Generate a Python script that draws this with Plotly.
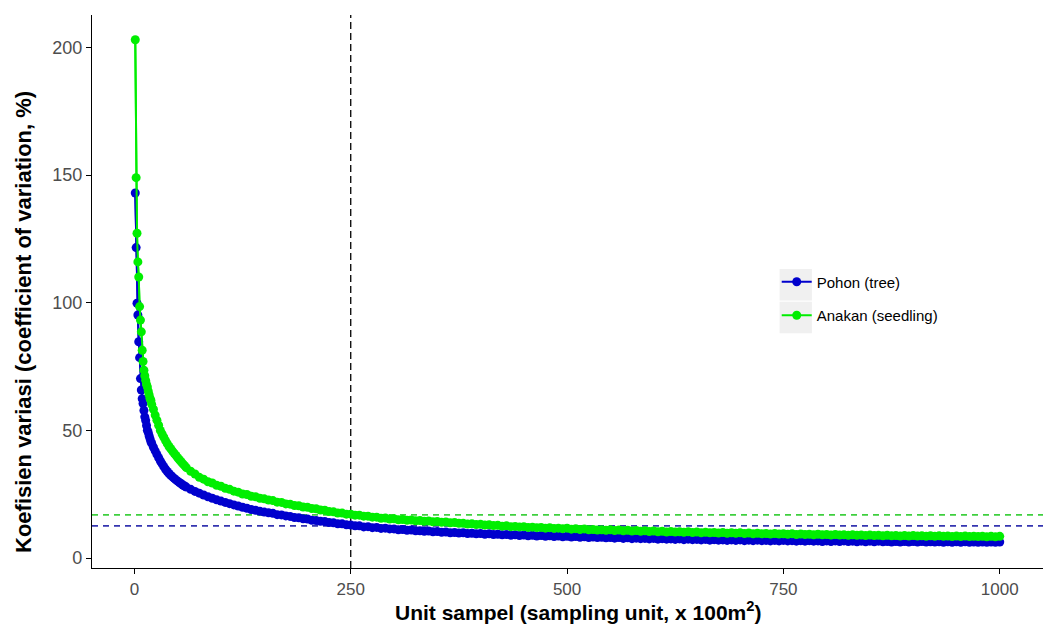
import plotly.graph_objects as go

# sample-size positions (sampling units)
n_units = list(range(1, 21)) + list(range(22, 61, 2)) + list(range(65, 1001, 5))

# coefficient of variation (%) - Pohon (tree)
cv_tree = [
    143.0, 121.6, 99.8, 95.2, 84.7, 78.5, 70.3, 65.8, 62.4, 60.5,
    57.8, 55.3, 53.9, 51.9, 50.1, 49.2, 47.9, 46.8, 45.6, 44.9,
    43.4, 42.0, 40.6, 39.3, 38.0, 36.9, 35.8, 34.8, 33.9, 33.1,
    32.4, 31.8, 31.2, 30.6, 30.1, 29.6, 29.1, 28.6, 28.2, 27.8,
    26.9, 26.1, 25.4, 24.7, 24.0, 23.4, 22.8, 22.3, 21.8, 21.3,
    20.8, 20.4, 19.9, 19.5, 19.0, 18.7, 18.3, 18.0, 17.7, 17.5,
    17.0, 16.9, 16.5, 16.3, 15.9, 15.8, 15.4, 15.3, 14.8, 14.7,
    14.4, 14.3, 13.9, 13.8, 13.4, 13.4, 13.0, 12.9, 12.6, 12.6,
    12.2, 12.3, 11.9, 12.0, 11.6, 11.7, 11.4, 11.4, 11.1, 11.2,
    10.9, 11.0, 10.7, 10.7, 10.5, 10.6, 10.3, 10.4, 10.1, 10.2,
    9.9, 10.0, 9.8, 9.9, 9.6, 9.7, 9.5, 9.6, 9.3, 9.5,
    9.2, 9.3, 9.1, 9.2, 8.9, 9.1, 8.8, 9.0, 8.7, 8.9,
    8.6, 8.8, 8.5, 8.7, 8.4, 8.6, 8.3, 8.5, 8.2, 8.4,
    8.1, 8.3, 8.0, 8.2, 8.0, 8.1, 7.9, 8.0, 7.8, 8.0,
    7.7, 7.9, 7.6, 7.8, 7.6, 7.7, 7.5, 7.7, 7.4, 7.6,
    7.4, 7.5, 7.3, 7.5, 7.2, 7.4, 7.2, 7.3, 7.1, 7.3,
    7.0, 7.2, 7.0, 7.1, 6.9, 7.1, 6.9, 7.1, 6.8, 7.0,
    6.8, 7.0, 6.8, 6.9, 6.7, 6.9, 6.7, 6.9, 6.7, 6.8,
    6.6, 6.8, 6.6, 6.8, 6.6, 6.7, 6.5, 6.7, 6.5, 6.7,
    6.5, 6.7, 6.5, 6.6, 6.4, 6.6, 6.4, 6.6, 6.4, 6.6,
    6.4, 6.5, 6.3, 6.5, 6.3, 6.5, 6.3, 6.5, 6.3, 6.5,
    6.3, 6.4, 6.3, 6.4, 6.2, 6.4, 6.2, 6.4, 6.2, 6.4,
    6.2, 6.3, 6.2, 6.3, 6.2, 6.3, 6.2, 6.3,
]

# coefficient of variation (%) - Anakan (seedling)
cv_seedling = [
    203.0, 149.0, 127.2, 116.0, 110.1, 98.5, 93.2, 88.6, 81.4, 77.0,
    73.6, 71.4, 69.6, 68.0, 67.0, 65.4, 64.0, 62.6, 61.8, 60.2,
    58.3, 56.0, 54.0, 52.0, 50.0, 48.6, 47.3, 46.0, 44.8, 43.7,
    42.8, 41.9, 41.0, 40.2, 39.3, 38.5, 37.7, 36.9, 36.2, 35.4,
    34.0, 32.9, 31.6, 30.9, 29.9, 29.4, 28.5, 28.1, 27.3, 26.9,
    26.2, 25.8, 25.1, 24.9, 24.2, 24.0, 23.4, 23.2, 22.7, 22.5,
    21.9, 21.8, 21.2, 21.1, 20.6, 20.5, 20.0, 19.9, 19.4, 19.3,
    18.8, 18.7, 18.2, 18.1, 17.6, 17.6, 17.2, 17.2, 16.8, 16.8,
    16.4, 16.4, 16.0, 16.0, 15.6, 15.7, 15.3, 15.4, 15.0, 15.1,
    14.8, 14.9, 14.6, 14.7, 14.4, 14.5, 14.2, 14.3, 14.0, 14.1,
    13.8, 13.9, 13.6, 13.6, 13.3, 13.4, 13.1, 13.2, 12.9, 13.0,
    12.7, 12.8, 12.5, 12.6, 12.3, 12.4, 12.2, 12.3, 12.0, 12.1,
    11.9, 12.0, 11.7, 11.9, 11.6, 11.7, 11.5, 11.7, 11.3, 11.5,
    11.2, 11.4, 11.1, 11.2, 11.0, 11.1, 10.9, 11.1, 10.8, 11.0,
    10.7, 10.9, 10.6, 10.8, 10.5, 10.7, 10.4, 10.6, 10.3, 10.5,
    10.2, 10.4, 10.2, 10.3, 10.1, 10.3, 10.0, 10.2, 9.9, 10.1,
    9.9, 10.0, 9.8, 10.0, 9.7, 9.9, 9.7, 9.9, 9.6, 9.8,
    9.5, 9.7, 9.5, 9.6, 9.4, 9.6, 9.4, 9.5, 9.3, 9.5,
    9.2, 9.4, 9.2, 9.3, 9.1, 9.3, 9.1, 9.2, 9.0, 9.2,
    9.0, 9.1, 8.9, 9.1, 8.9, 9.0, 8.8, 9.0, 8.8, 8.9,
    8.7, 8.9, 8.7, 8.8, 8.6, 8.8, 8.6, 8.8, 8.6, 8.7,
    8.5, 8.7, 8.5, 8.7, 8.5, 8.6, 8.4, 8.6, 8.4, 8.6,
    8.4, 8.5, 8.4, 8.5, 8.3, 8.5, 8.3, 8.5,
]

ref_n = 250
ref_cv_tree = 12.6
ref_cv_seedling = 16.9

x_ticks = [0, 250, 500, 750, 1000]
y_ticks = [0, 50, 100, 150, 200]

assert len(n_units) == len(cv_tree) == len(cv_seedling), (len(n_units), len(cv_tree), len(cv_seedling))

BLUE = "#0000CD"
GREEN = "#00EE00"
FONT = "Liberation Sans, Arial, sans-serif"

fig = go.Figure()
# lines first (drawn under all points)
fig.add_trace(go.Scatter(x=n_units, y=cv_tree, mode="lines",
                         line=dict(color=BLUE, width=2), showlegend=False,
                         hoverinfo="skip"))
fig.add_trace(go.Scatter(x=n_units, y=cv_seedling, mode="lines",
                         line=dict(color=GREEN, width=2), showlegend=False,
                         hoverinfo="skip"))
fig.add_trace(go.Scatter(x=n_units, y=cv_tree, mode="lines+markers",
                         name="Pohon (tree)", legendgroup="a",
                         line=dict(color=BLUE, width=2),
                         marker=dict(color=BLUE, size=9)))
fig.add_trace(go.Scatter(x=n_units, y=cv_seedling, mode="lines+markers",
                         name="Anakan (seedling)", legendgroup="b",
                         line=dict(color=GREEN, width=2),
                         marker=dict(color=GREEN, size=9)))

# reference lines
fig.add_hline(y=ref_cv_seedling, line=dict(color="#3FCF3F", width=1.6, dash="6px,5px"), layer="below")
fig.add_hline(y=ref_cv_tree, line=dict(color="#3535B0", width=1.6, dash="6px,5px"), layer="below")
fig.add_vline(x=ref_n, line=dict(color="black", width=1.3, dash="7px,4px"), layer="below")

# grey legend key backgrounds
for y0, y1 in [(0.4835, 0.5405), (0.4245, 0.4815)]:
    fig.add_shape(type="rect", xref="paper", yref="paper", x0=0.723, x1=0.757,
                  y0=y0, y1=y1, fillcolor="#F0F0F0", line=dict(width=0), layer="below")

# axis titles
fig.add_annotation(text="<b>Unit sampel (sampling unit, x 100m<sup>2</sup>)</b>",
                   xref="paper", yref="paper", x=(578 - 92) / 951, y=-(611 - 568) / 553,
                   xanchor="center", yanchor="middle", showarrow=False,
                   font=dict(size=21, color="black", family=FONT))
fig.add_annotation(text="<b>Koefisien variasi (coefficient of variation, %)</b>",
                   xref="paper", yref="paper", x=-(92 - 23) / 951, y=(568 - 322) / 553,
                   xanchor="center", yanchor="middle", showarrow=False, textangle=-90,
                   font=dict(size=22, color="black", family=FONT))

fig.update_layout(
    width=1054, height=633,
    margin=dict(l=92, r=11, t=15, b=65),
    plot_bgcolor="white", paper_bgcolor="white",
    font=dict(family=FONT, color="#4D4D4D", size=18),
    legend=dict(x=0.72, y=0.547, xanchor="left", yanchor="top",
                bgcolor="rgba(0,0,0,0)", font=dict(size=15, color="black"),
                traceorder="grouped", tracegroupgap=11, itemwidth=30),
    xaxis=dict(range=[-49, 1050], tickvals=x_ticks, showgrid=False, zeroline=False,
               showline=True, linecolor="black", linewidth=1.2,
               ticks="outside", ticklen=5, tickcolor="black",
               tickfont=dict(size=17, color="#4D4D4D")),
    yaxis=dict(range=[-3.9, 212.7], tickvals=y_ticks, showgrid=False, zeroline=False,
               showline=True, linecolor="black", linewidth=1.2,
               ticks="outside", ticklen=5, tickcolor="black",
               tickfont=dict(size=18, color="#4D4D4D")),
)

fig.write_html("out.html")
